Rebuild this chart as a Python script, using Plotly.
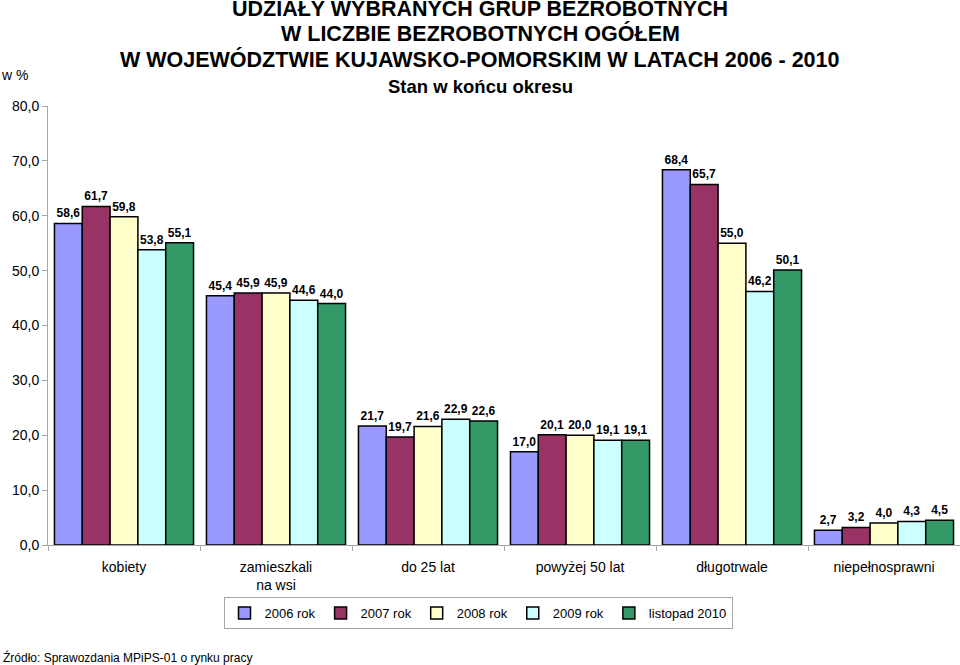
import plotly.graph_objects as go

categories = ["kobiety", "zamieszkali<br>na wsi", "do 25 lat", "powyżej 50 lat", "długotrwale", "niepełnosprawni"]
series_names = ["2006 rok", "2007 rok", "2008 rok", "2009 rok", "listopad 2010"]
v2006 = [58.6, 45.4, 21.7, 17.0, 68.4, 2.7]
v2007 = [61.7, 45.9, 19.7, 20.1, 65.7, 3.2]
v2008 = [59.8, 45.9, 21.6, 20.0, 55.0, 4.0]
v2009 = [53.8, 44.6, 22.9, 19.1, 46.2, 4.3]
v2010 = [55.1, 44.0, 22.6, 19.1, 50.1, 4.5]
colors = ["#9999FF", "#993366", "#FFFFCC", "#CCFFFF", "#339966"]
y_ticks = [0, 10, 20, 30, 40, 50, 60, 70, 80]

FONT = "Liberation Sans, Arial, sans-serif"
fig = go.Figure()
for name, vals, col in zip(series_names, [v2006, v2007, v2008, v2009, v2010], colors):
    fig.add_trace(go.Bar(
        x=categories, y=vals, name=name,
        marker=dict(color=col, line=dict(color="black", width=1.5)),
        texttemplate="%{y:.1f}", textposition="outside",
        textfont=dict(family=FONT, size=12, color="black", weight="bold"),
        cliponaxis=False,
    ))

# plot area: x 48..960, y 106..545
L, R, T, B = 48, 0, 106, 120
H = 665 - T - B
def py(p):
    return (665 - B - p) / H
def px(p):
    return (p - L) / (960 - L - R)

titles = [
    ("UDZIAŁY WYBRANYCH GRUP BEZROBOTNYCH", 9, 21.5),
    ("W LICZBIE BEZROBOTNYCH OGÓŁEM", 34, 21.5),
    ("W WOJEWÓDZTWIE KUJAWSKO-POMORSKIM W LATACH 2006 - 2010", 59, 21.5),
    ("Stan w końcu okresu", 86, 18.5),
]
for txt, yc, fs in titles:
    fig.add_annotation(text="<b>%s</b>" % txt, xref="paper", yref="paper",
                       x=px(480), y=py(yc), xanchor="center", yanchor="middle",
                       showarrow=False, font=dict(family=FONT, size=fs, color="black"))

fig.add_annotation(text="w %", xref="paper", yref="paper", x=px(-1), y=py(75),
                   xanchor="left", yanchor="middle", showarrow=False,
                   font=dict(family=FONT, size=14, color="black"))
fig.add_annotation(text="Źródło: Sprawozdania MPiPS-01 o rynku pracy", xref="paper", yref="paper",
                   x=px(1), y=py(657), xanchor="left", yanchor="middle", showarrow=False,
                   font=dict(family=FONT, size=12, color="black"))

fig.update_layout(
    width=960, height=665,
    margin=dict(l=L, r=R, t=T, b=B),
    paper_bgcolor="white", plot_bgcolor="white",
    separators=", ",
    barmode="group", bargap=0.085, bargroupgap=0,
    font=dict(family=FONT, size=14, color="black"),
    showlegend=True,
    legend=dict(orientation="h", x=px(478), y=py(597), xanchor="center", yanchor="top",
                bordercolor="#A6A6A6", borderwidth=1, bgcolor="white",
                font=dict(family=FONT, size=13, color="black"),
                itemwidth=30, traceorder="normal"),
)
fig.update_yaxes(range=[0, 80], tickvals=y_ticks, tickformat=".1f",
                 showgrid=False, zeroline=False, showline=True, linecolor="#A6A6A6", linewidth=1,
                 ticks="outside", ticklen=5, tickcolor="#A6A6A6",
                 tickfont=dict(family=FONT, size=14, color="black"))
fig.update_xaxes(showgrid=False, showline=True, linecolor="#A6A6A6", linewidth=1,
                 ticks="outside", ticklen=5, tickcolor="#A6A6A6", tickson="boundaries",
                 ticklabelstandoff=9,
                 tickfont=dict(family=FONT, size=14, color="black"))

fig.write_html("out.html")
